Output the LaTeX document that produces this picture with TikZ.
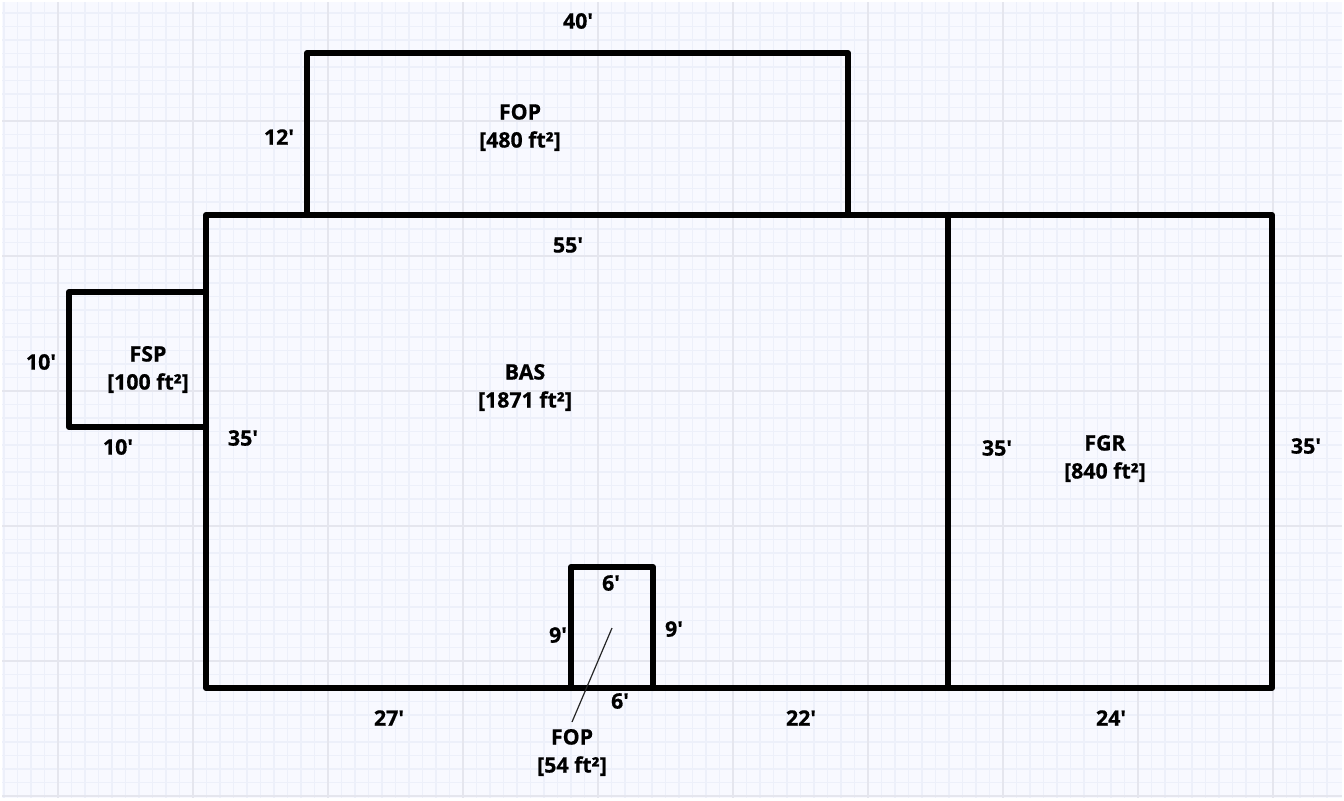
\documentclass[tikz,border=0pt]{standalone}
\usepackage{fontspec}
\newfontfamily\lblfont{Open Sans}[BoldFeatures={FakeBold=0.7}]
\definecolor{paper}{HTML}{F8F9FF}
\definecolor{minorgrid}{HTML}{EDF0FA}
\definecolor{majorgrid}{HTML}{E5E6EE}
\tikzset{
  room/.style={draw=black,line width=4.6pt,line join=round,line cap=round},
  lbl/.style={font=\lblfont\bfseries\fontsize{16}{21}\selectfont,text=black,inner sep=0pt,align=center},
  leader/.style={draw=black!85,line width=0.9pt}
}
\begin{document}
\begin{tikzpicture}[x=0.75pt,y=-0.75pt]
\useasboundingbox (0,0) rectangle (1344,800);
\fill[white] (0,0) rectangle (1344,800);
\fill[paper] (2,2) rectangle (1342,798);
% grid
\foreach \i in {0,...,98} {
  \pgfmathsetmacro{\gx}{4+13.5*\i}
  \draw[minorgrid,line width=1pt] (\gx,2) -- (\gx,798);
}
\foreach \i in {0,...,58} {
  \pgfmathsetmacro{\gy}{13+13.5*\i}
  \draw[minorgrid,line width=1pt] (2,\gy) -- (1342,\gy);
}
\foreach \i in {0,...,9} {
  \pgfmathsetmacro{\gx}{58+135*\i}
  \draw[majorgrid,line width=1pt] (\gx,2) -- (\gx,798);
}
\foreach \i in {0,...,5} {
  \pgfmathsetmacro{\gy}{121+135*\i}
  \draw[majorgrid,line width=1pt] (2,\gy) -- (1342,\gy);
}
% rooms
\draw[room] (307,215) -- (307,53) -- (848,53) -- (848,215);
\draw[room] (206,215) rectangle (1272,688);
\draw[room] (948,215) -- (948,688);
\draw[room] (206,292) -- (69,292) -- (69,427) -- (206,427);
\draw[room] (571,688) -- (571,567) -- (653,567) -- (653,688);
% labels
\node[lbl] (d40) at (578,21) {40'};
\node[lbl] (d12) at (279,137) {12'};
\node[lbl] (fopa) at (520,127.5) {FOP\\{}[480 ft²]};
\node[lbl] (d55) at (568,245) {55'};
\node[lbl] (d10a) at (41,362) {10'};
\node[lbl] (fsp) at (148,369.5) {FSP\\{}[100 ft²]};
\node[lbl] (d10b) at (118,447) {10'};
\node[lbl] (d35a) at (243,438) {35'};
\node[lbl] (bas) at (525,387.5) {BAS\\{}[1871 ft²]};
\node[lbl] (d35b) at (997,448) {35'};
\node[lbl] (fgr) at (1105,458.5) {FGR\\{}[840 ft²]};
\node[lbl] (d35c) at (1306,446) {35'};
\node[lbl] (d6a) at (611,583) {6'};
\node[lbl] (d9a) at (558,635) {9'};
\node[lbl] (d9b) at (674,629) {9'};
\node[lbl] (d6b) at (620,701) {6'};
\node[lbl] (d27) at (389,718) {27'};
\node[lbl] (d22) at (801,718) {22'};
\node[lbl] (d24) at (1111,718) {24'};
\node[lbl] (fopb) at (572,752.5) {FOP\\{}[54 ft²]};
% leader
\coordinate (lead) at (612,628);
\coordinate (leadend) at (572,722);
\draw[leader] (lead) -- (leadend);
\end{tikzpicture}
\end{document}
